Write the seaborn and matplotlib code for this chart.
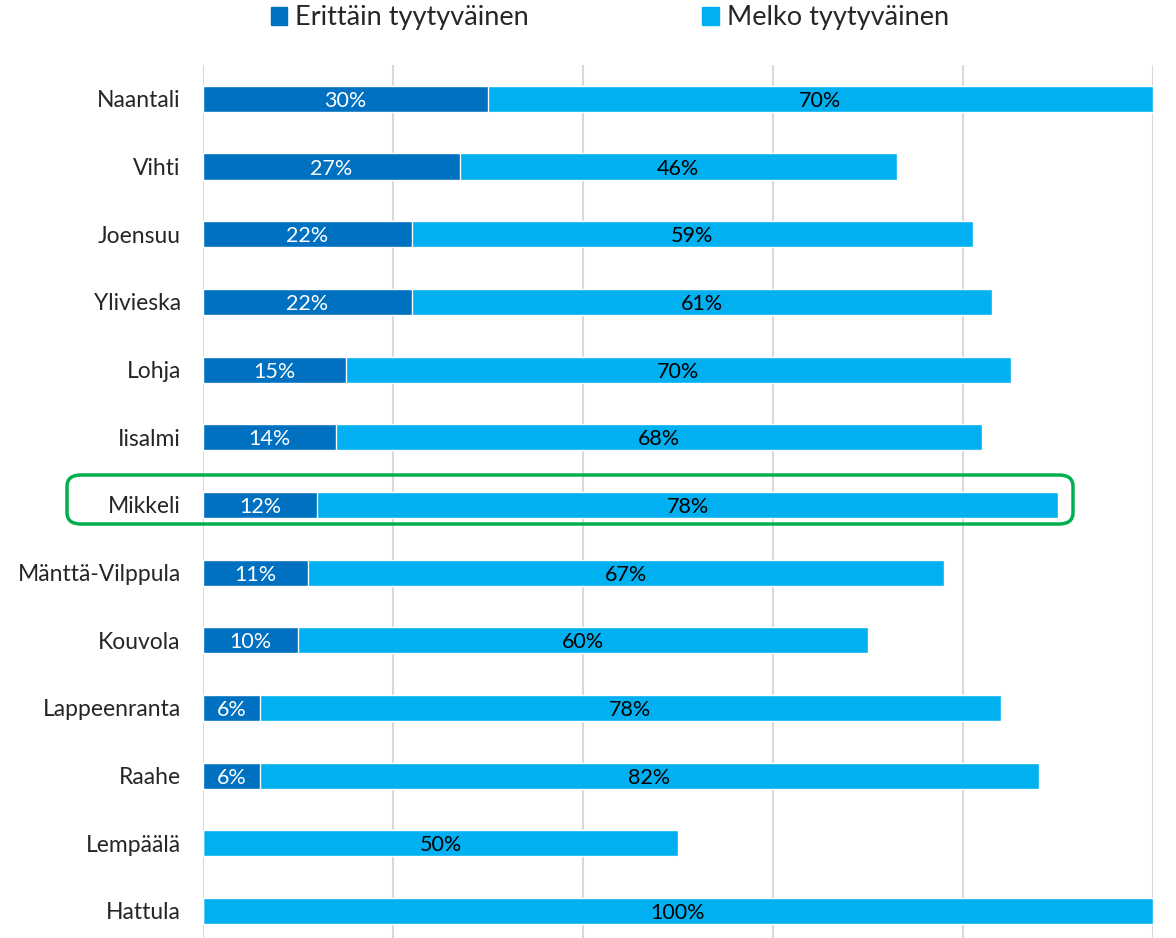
import matplotlib
matplotlib.use("Agg")
import matplotlib.pyplot as plt
import seaborn as sns
import pandas as pd
from matplotlib.patches import FancyBboxPatch, Patch

# data
cities = ["Naantali", "Vihti", "Joensuu", "Ylivieska", "Lohja", "Iisalmi", "Mikkeli",
          "Mänttä-Vilppula", "Kouvola", "Lappeenranta", "Raahe", "Lempäälä", "Hattula"]
erittain = [30, 27, 22, 22, 15, 14, 12, 11, 10, 6, 6, 0, 0]
melko = [70, 46, 59, 61, 70, 68, 78, 67, 60, 78, 82, 50, 100]

df = pd.DataFrame({"city": cities, "erittain": erittain, "melko": melko})
df["total"] = df["erittain"] + df["melko"]

dark = "#0070C0"
light = "#00B0F0"

sns.set_style("white")
plt.rcParams["font.family"] = ["Lato", "DejaVu Sans"]

fig = plt.figure(figsize=(11.76, 9.38), dpi=100)
ax = fig.add_axes([203 / 1176, 0, 950 / 1176, 1 - 65 / 938])

sns.barplot(data=df, y="city", x="total", color=light, orient="h", width=0.385,
            saturation=1, ax=ax)
sns.barplot(data=df, y="city", x="erittain", color=dark, orient="h", width=0.385,
            saturation=1, ax=ax)

for i, (e, m) in enumerate(zip(erittain, melko)):
    if e > 0:
        ax.text(e / 2, i, f"{e}%", ha="center", va="center_baseline", color="white", fontsize=15.5)
    ax.text(e + m / 2, i, f"{m}%", ha="center", va="center_baseline", color="black", fontsize=15.5)

ax.set_xlim(0, 100)
ax.set_ylim(12 + 27 / 67.67, -0.5)
ax.set_xticks(range(0, 101, 20))
ax.xaxis.grid(True, color="#D9D9D9", linewidth=1.5)
ax.set_axisbelow(True)
ax.set_xticklabels([])
ax.tick_params(axis="x", length=0)
ax.tick_params(axis="y", length=0, labelsize=16.5, pad=16)
for lab in ax.get_yticklabels():
    lab.set_verticalalignment("center_baseline")
ax.set_xlabel("")
ax.set_ylabel("")
for s in ax.spines.values():
    s.set_visible(False)

handles = [Patch(color=dark, label="Erittäin tyytyväinen"),
           Patch(color=light, label="Melko tyytyväinen")]
fig.legend(handles=handles, loc="center", bbox_to_anchor=(610 / 1176, 1 - 18 / 938),
           ncol=2, frameon=False, fontsize=19.5, handlelength=0.6, handleheight=0.6,
           handletextpad=0.3, columnspacing=6.4)

box = FancyBboxPatch((67 / 1176, 1 - 524 / 938), 1006 / 1176, 49 / 938,
                     boxstyle="round,pad=0,rounding_size=0.012", transform=fig.transFigure,
                     fill=False, edgecolor="#00B050", linewidth=2.5)
fig.patches.append(box)

fig.savefig("out.png", dpi=100)
